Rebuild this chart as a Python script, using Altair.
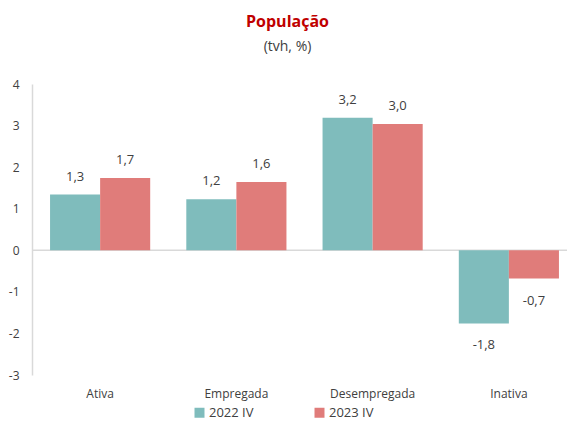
import altair as alt
import pandas as pd

categorias = ["Ativa", "Empregada", "Desempregada", "Inativa"]
series = ["2022 IV", "2023 IV"]
valores_2022 = [1.34, 1.23, 3.19, -1.76]
valores_2023 = [1.74, 1.64, 3.04, -0.68]
rotulos_2022 = ["1,3", "1,2", "3,2", "-1,8"]
rotulos_2023 = ["1,7", "1,6", "3,0", "-0,7"]
y_ticks = [-3, -2, -1, 0, 1, 2, 3, 4]
cores = ["#7fbcbc", "#e07c7a"]

rows = []
for c, v, r in zip(categorias, valores_2022, rotulos_2022):
    rows.append({"Categoria": c, "Serie": series[0], "Valor": v, "Rotulo": r})
for c, v, r in zip(categorias, valores_2023, rotulos_2023):
    rows.append({"Categoria": c, "Serie": series[1], "Valor": v, "Rotulo": r})
df = pd.DataFrame(rows)

FONT = "Open Sans"
TXT = "#404040"

yscale = alt.Scale(domain=[-3, 4], nice=False, zero=False)
yaxis = alt.Axis(
    title=None, values=y_ticks, grid=False, ticks=False,
    domainColor="#d9d9d9", domainWidth=1.5, labelPadding=13,
    labelFontSize=12, labelColor=TXT, labelFont=FONT,
    labelExpr="'' + datum.value",
)

base = alt.Chart(df).encode(
    x=alt.X(
        "Categoria:N",
        sort=categorias,
        scale=alt.Scale(paddingInner=0.265, paddingOuter=0.1325),
        axis=alt.Axis(
            title=None, labelAngle=0, domain=False, ticks=False,
            labelPadding=13, labelFontSize=12, labelColor=TXT, labelFont=FONT,
        ),
    ),
    xOffset=alt.XOffset("Serie:N", sort=series, scale=alt.Scale(paddingInner=0, paddingOuter=0)),
)

zero = alt.Chart(pd.DataFrame({"Valor": [0]})).mark_rule(color="#d9d9d9", strokeWidth=1.5).encode(
    y=alt.Y("Valor:Q", scale=yscale, axis=yaxis)
)

bars = base.mark_bar().encode(
    y=alt.Y("Valor:Q", scale=yscale, axis=yaxis),
    color=alt.Color(
        "Serie:N",
        sort=series,
        scale=alt.Scale(domain=series, range=cores),
        legend=alt.Legend(
            title=None, orient="none", direction="horizontal",
            legendX=161, legendY=322, symbolType="square", symbolSize=100,
            symbolStrokeWidth=0, labelFontSize=13, labelColor=TXT, labelFont=FONT,
            labelOffset=3, columnPadding=59,
        ),
    ),
)

pos = base.transform_filter("datum.Valor >= 0").mark_text(
    dy=-18, fontSize=13, font=FONT, color=TXT
).encode(y=alt.Y("Valor:Q", scale=yscale), text="Rotulo:N")

neg = base.transform_filter("datum.Valor < 0").mark_text(
    dy=22, fontSize=13, font=FONT, color=TXT
).encode(y=alt.Y("Valor:Q", scale=yscale), text="Rotulo:N")

chart = alt.layer(zero, bars, pos, neg).properties(
    width=545,
    height=291,
    autosize=alt.AutoSizeParams(type="none"),
    padding={"left": 24, "top": 76, "right": -10, "bottom": 47},
    title=alt.TitleParams(
        "População", subtitle="(tvh, %)", anchor="middle",
        color="#c00000", fontSize=16, font=FONT, fontWeight="bold",
        subtitleColor=TXT, subtitleFontSize=14, subtitleFont=FONT,
        subtitlePadding=10, offset=24, dx=-17,
    ),
).configure_view(stroke=None)

chart.save("out.html", embed_options={"renderer": "svg", "actions": False})
